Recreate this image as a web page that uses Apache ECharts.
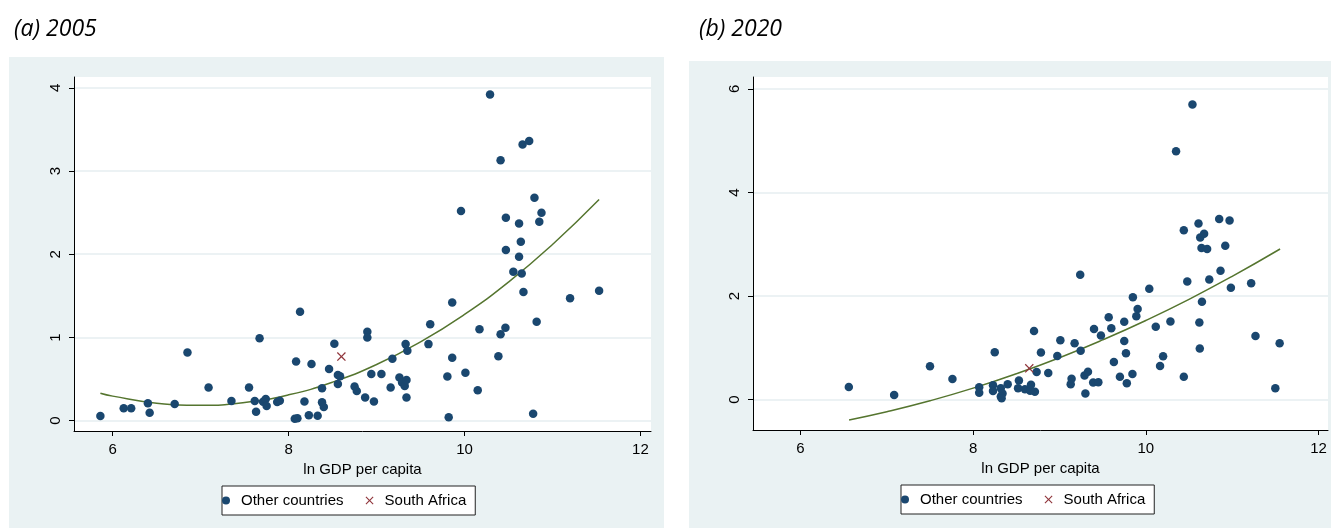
<!DOCTYPE html>
<html>
<head>
<meta charset="utf-8">
<script src="https://cdn.jsdelivr.net/npm/echarts@6/dist/echarts.min.js"></script>
<style>
  html, body { margin: 0; padding: 0; background: #fff; }
  #chart { width: 1331px; height: 528px; }
</style>
</head>
<body>
<div id="chart"></div>
<script>
// (a) 2005 — [ln GDP per capita, value]
const others2005 = [
  [5.86, 0.056], [6.125, 0.149], [6.21, 0.149], [6.40, 0.21], [6.42, 0.096], [6.705, 0.20],
  [6.85, 0.82], [7.09, 0.40], [7.35, 0.237], [7.55, 0.40], [7.615, 0.237], [7.63, 0.108],
  [7.67, 0.99], [7.71, 0.228], [7.74, 0.26], [7.75, 0.177], [7.87, 0.225], [7.90, 0.24],
  [8.13, 1.31], [8.07, 0.024], [8.10, 0.03], [8.085, 0.71], [8.18, 0.23], [8.26, 0.68],
  [8.23, 0.065], [8.33, 0.06], [8.38, 0.39], [8.38, 0.22], [8.40, 0.165], [8.46, 0.62],
  [8.52, 0.925], [8.56, 0.55], [8.585, 0.535], [8.56, 0.44], [8.75, 0.41], [8.775, 0.357],
  [8.87, 0.28], [8.895, 1.07], [8.895, 1.00], [8.94, 0.56], [8.97, 0.23], [9.055, 0.56],
  [9.16, 0.40], [9.18, 0.745], [9.26, 0.52], [9.29, 0.46], [9.32, 0.417], [9.34, 0.49],
  [9.34, 0.28], [9.33, 0.92], [9.35, 0.84], [9.59, 0.92], [9.61, 1.16], [9.86, 1.42],
  [9.86, 0.757], [9.805, 0.53], [9.82, 0.04], [10.01, 0.577], [10.15, 0.365], [10.17, 1.10],
  [10.385, 0.773], [10.41, 1.04], [10.465, 1.117], [10.78, 0.084], [10.82, 1.19], [10.67, 1.546],
  [10.555, 1.79], [10.65, 1.77], [10.62, 1.97], [10.47, 2.05], [10.64, 2.15], [11.20, 1.47],
  [11.53, 1.56], [10.29, 3.92], [10.66, 3.32], [10.735, 3.36], [10.41, 3.13], [9.96, 2.52],
  [10.795, 2.68], [10.875, 2.50], [10.85, 2.39], [10.47, 2.44], [10.62, 2.37]
];
const southAfrica2005 = [[8.60, 0.77]];
const fit2005 = [
  [5.86, 0.33], [6.0, 0.295], [6.5, 0.21], [7.0, 0.184], [7.5, 0.218], [8.0, 0.311],
  [8.5, 0.463], [9.0, 0.675], [9.5, 0.947], [10.0, 1.277], [10.5, 1.666], [11.0, 2.117], [11.53, 2.657]
];

// (b) 2020
const others2020 = [
  [6.56, 0.245], [7.085, 0.09], [7.50, 0.645], [7.76, 0.40], [8.07, 0.24], [8.07, 0.135],
  [8.25, 0.915], [8.23, 0.28], [8.23, 0.17], [8.32, 0.22], [8.34, 0.12], [8.32, 0.06],
  [8.33, 0.03], [8.40, 0.30], [8.53, 0.37], [8.52, 0.22], [8.60, 0.20], [8.66, 0.175],
  [8.715, 0.155], [8.67, 0.29], [8.735, 0.535], [8.705, 1.325], [8.785, 0.91], [8.87, 0.515],
  [8.975, 0.845], [9.01, 1.146], [9.13, 0.30], [9.14, 0.405], [9.175, 1.09], [9.245, 0.946],
  [9.24, 2.41], [9.30, 0.12], [9.29, 0.465], [9.33, 0.54], [9.39, 0.33], [9.45, 0.335],
  [9.40, 1.365], [9.48, 1.24], [9.57, 1.59], [9.60, 1.38], [9.63, 0.73], [9.70, 0.445],
  [9.75, 1.506], [9.75, 1.133], [9.77, 0.895], [9.78, 0.317], [9.845, 0.496], [9.85, 1.98],
  [9.905, 1.75], [9.89, 1.61], [10.04, 2.14], [10.115, 1.41], [10.285, 1.51], [10.165, 0.65],
  [10.20, 0.84], [10.44, 0.444], [10.44, 3.27], [10.48, 2.28], [10.61, 3.40], [10.63, 3.13],
  [10.675, 3.205], [10.645, 2.93], [10.71, 2.91], [10.65, 1.89], [10.62, 1.49], [10.625, 0.99],
  [10.735, 2.32], [10.85, 3.49], [10.97, 3.46], [10.92, 2.97], [10.865, 2.49], [10.985, 2.16],
  [11.22, 2.25], [11.27, 1.23], [11.55, 1.09], [11.50, 0.22], [10.54, 5.70], [10.35, 4.795]
];
const southAfrica2020 = [[8.65, 0.605]];
const fit2020 = [
  [6.563, -0.39], [7.0, -0.232], [7.5, -0.021], [8.0, 0.223], [8.5, 0.501], [9.0, 0.811],
  [9.5, 1.155], [10.0, 1.53], [10.5, 1.938], [11.0, 2.381], [11.555, 2.909]
];

const xTicks = [6, 8, 10, 12];
const yTicks2005 = [0, 1, 2, 3, 4];
const yTicks2020 = [0, 2, 4, 6];
const panelTitles = ['(a) 2005', '(b) 2020'];
const legendNames = ['Other countries', 'South Africa'];

const NAVY = '#1a476f';
const MAROON = '#90353b';
const GREEN = '#55752f';
const PANEL_BG = '#eaf2f3';
const LABEL_FONT = 'Liberation Sans, Arial, sans-serif';
const CROSS = 'path://M1,0L5,4L9,0L10,1L6,5L10,9L9,10L5,6L1,10L0,9L4,5L0,1Z';

const chart = echarts.init(document.getElementById('chart'));

function xAxisFor(gridIndex, min, max) {
  return {
    type: 'value',
    gridIndex,
    min,
    max,
    name: 'ln GDP per capita',
    nameLocation: 'middle',
    nameGap: 26,
    nameTextStyle: { color: '#000', fontSize: 15, fontFamily: LABEL_FONT },
    axisLine: { onZero: false, lineStyle: { color: '#000', width: 1 } },
    axisTick: { length: 5, customValues: xTicks, lineStyle: { color: '#000' } },
    axisLabel: { customValues: xTicks, margin: 11, color: '#000', fontSize: 15, fontFamily: LABEL_FONT },
    splitLine: { show: false }
  };
}

function yAxisFor(gridIndex, min, max, ticks) {
  return {
    type: 'value',
    gridIndex,
    min,
    max,
    axisLine: { show: true, onZero: false, lineStyle: { color: '#000', width: 1 } },
    axisTick: { show: true, length: 5, customValues: ticks, lineStyle: { color: '#000' } },
    axisLabel: { customValues: ticks, rotate: 90, margin: 11, color: '#000', fontSize: 15, fontFamily: LABEL_FONT },
    splitLine: { show: true, lineStyle: { color: '#e6eef0', width: 1.5 } }
  };
}

function legendFor(left, top, prefix) {
  return {
    left,
    top,
    orient: 'horizontal',
    backgroundColor: '#fff',
    borderColor: '#222',
    borderWidth: 1,
    borderRadius: 0,
    padding: [7, 9, 7, 0],
    itemWidth: 20,
    itemHeight: 8,
    itemGap: 22,
    textStyle: { color: '#000', fontSize: 15, fontFamily: LABEL_FONT },
    data: [
      { name: prefix + legendNames[0], icon: 'circle' },
      { name: prefix + legendNames[1], icon: CROSS }
    ],
    formatter: name => name.replace(prefix, '')
  };
}

const titleStyle = { fontStyle: 'italic', fontWeight: 'normal', fontSize: 23, color: '#000', fontFamily: 'Open Sans, sans-serif' };

const option = {
  animation: false,
  graphic: [
    { type: 'rect', left: 9, top: 57, shape: { width: 655, height: 471 }, style: { fill: PANEL_BG }, z: -10, silent: true },
    { type: 'rect', left: 689, top: 61, shape: { width: 642, height: 467 }, style: { fill: PANEL_BG }, z: -10, silent: true }
  ],
  title: [
    { text: panelTitles[0], left: 9, top: 13, textStyle: titleStyle },
    { text: panelTitles[1], left: 694, top: 13, textStyle: titleStyle }
  ],
  grid: [
    { left: 74, top: 77, width: 577, height: 354, show: true, backgroundColor: '#fff', borderWidth: 0 },
    { left: 753, top: 77, width: 575, height: 353, show: true, backgroundColor: '#fff', borderWidth: 0 }
  ],
  xAxis: [
    xAxisFor(0, 5.56, 12.12),
    xAxisFor(1, 5.45, 12.11)
  ],
  yAxis: [
    yAxisFor(0, -0.124, 4.13, yTicks2005),
    yAxisFor(1, -0.585, 6.23, yTicks2020)
  ],
  legend: [
    legendFor(222, 486, 'a:'),
    legendFor(901, 485, 'b:')
  ],
  series: [
    {
      name: 'a:' + legendNames[0], type: 'scatter', xAxisIndex: 0, yAxisIndex: 0,
      data: others2005, symbol: 'circle', symbolSize: 8.5, itemStyle: { color: NAVY, opacity: 1 }, z: 3
    },
    {
      name: 'a:' + legendNames[1], type: 'scatter', xAxisIndex: 0, yAxisIndex: 0,
      data: southAfrica2005, symbol: CROSS, symbolSize: 9, itemStyle: { color: MAROON, opacity: 1 }, z: 4
    },
    {
      name: 'a:fit', type: 'line', xAxisIndex: 0, yAxisIndex: 0, data: fit2005,
      smooth: true, showSymbol: false, lineStyle: { color: GREEN, width: 1.5 }, z: 2
    },
    {
      name: 'b:' + legendNames[0], type: 'scatter', xAxisIndex: 1, yAxisIndex: 1,
      data: others2020, symbol: 'circle', symbolSize: 8.5, itemStyle: { color: NAVY, opacity: 1 }, z: 3
    },
    {
      name: 'b:' + legendNames[1], type: 'scatter', xAxisIndex: 1, yAxisIndex: 1,
      data: southAfrica2020, symbol: CROSS, symbolSize: 9, itemStyle: { color: MAROON, opacity: 1 }, z: 4
    },
    {
      name: 'b:fit', type: 'line', xAxisIndex: 1, yAxisIndex: 1, data: fit2020,
      smooth: true, showSymbol: false, lineStyle: { color: GREEN, width: 1.5 }, z: 2
    }
  ]
};

chart.setOption(option);
</script>
</body>
</html>
